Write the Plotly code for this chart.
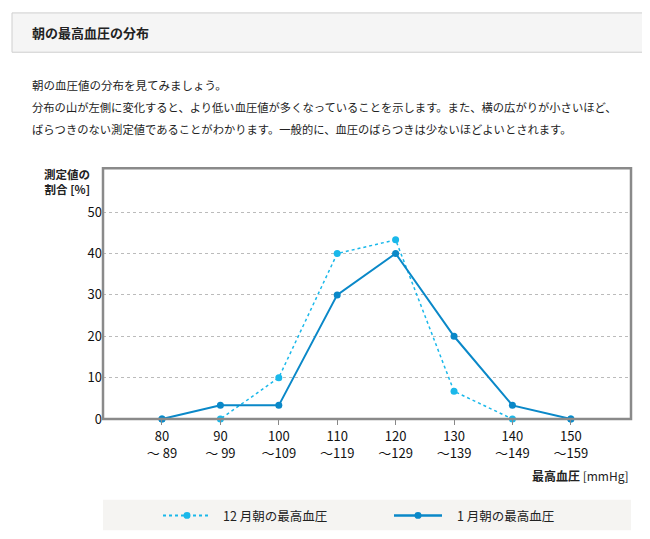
import plotly.graph_objects as go

categories = ["80<br>～ 89", "90<br>～ 99", "100<br>～109", "110<br>～119", "120<br>～129", "130<br>～139", "140<br>～149", "150<br>～159"]
dec_values = [0, 0, 10, 40, 43.3, 6.7, 0, 0]
jan_values = [0, 3.3, 3.3, 30, 40, 20, 3.3, 0]
y_ticks = [0, 10, 20, 30, 40, 50]

W, H = 650, 539
x0, x1, y0, y1 = 95, 623, 163, 418
def px(x): return x / W
def py(y): return 1 - y / H

xs = list(range(len(categories)))
fig = go.Figure()
fig.add_trace(go.Scatter(x=xs, y=dec_values, mode="lines+markers", name="12 月朝の最高血圧",
    line=dict(color="#1ab8ea", width=1.5, dash="dot"), marker=dict(size=7, color="#1ab8ea"), cliponaxis=False))
fig.add_trace(go.Scatter(x=xs, y=jan_values, mode="lines+markers", name="1 月朝の最高血圧",
    line=dict(color="#0a88c8", width=2), marker=dict(size=7, color="#0a88c8"), cliponaxis=False))

fig.update_layout(
    width=W, height=H, margin=dict(l=0, r=0, t=0, b=0), showlegend=False,
    paper_bgcolor="white", plot_bgcolor="white",
    font=dict(family="Noto Sans CJK JP", color="#222", size=12),
    xaxis=dict(domain=[px(x0), px(x1)], range=[-1.01, 8.03], tickvals=xs, ticktext=categories,
               showgrid=False, zeroline=False, ticks="outside", ticklen=5, tickcolor="#888",
               tickfont=dict(size=13, color="#111")),
    yaxis=dict(domain=[py(y1), py(y0)], range=[0, 60.6], tickvals=y_ticks,
               showgrid=True, gridcolor="#bbb", griddash="dot", gridwidth=1, zeroline=False,
               ticks="", tickfont=dict(size=13, color="#111")),
)
shapes = [
    dict(type="rect", xref="paper", yref="paper", x0=px(x0), x1=px(x1), y0=py(y1), y1=py(y0),
         line=dict(color="#8a8a8a", width=2.5)),
    dict(type="rect", xref="paper", yref="paper", x0=px(4), x1=px(649), y0=py(45), y1=py(5),
         line=dict(color="#cfcfcf", width=1), fillcolor="#f5f5f5", layer="below"),
    dict(type="rect", xref="paper", yref="paper", x0=px(95), x1=px(623), y0=py(531), y1=py(500),
         line=dict(width=0), fillcolor="#f5f4f2", layer="below"),
    dict(type="line", xref="paper", yref="paper", x0=px(155), x1=px(203), y0=py(516), y1=py(516),
         line=dict(color="#1ab8ea", width=2, dash="dot")),
    dict(type="line", xref="paper", yref="paper", x0=px(386), x1=px(434), y0=py(516), y1=py(516),
         line=dict(color="#0a88c8", width=2.5)),
    dict(type="circle", xref="paper", yref="paper", x0=px(175.5), x1=px(182.5), y0=py(519.5), y1=py(512.5),
         line=dict(width=0), fillcolor="#1ab8ea"),
    dict(type="circle", xref="paper", yref="paper", x0=px(406.5), x1=px(413.5), y0=py(519.5), y1=py(512.5),
         line=dict(width=0), fillcolor="#0a88c8"),
]
fig.update_layout(shapes=shapes)
def ann(x, y, t, size=12, anchor="left", bold=False):
    fig.add_annotation(xref="paper", yref="paper", x=px(x), y=py(y), text=f"<b>{t}</b>" if bold else t,
        showarrow=False, xanchor=anchor, yanchor="middle", font=dict(size=size, color="#222"), align=anchor)
ann(22, 25, "朝の最高血圧の分布", 13, bold=True)
ann(22, 78, "朝の血圧値の分布を見てみましょう。", 11.5)
ann(22, 101, "分布の山が左側に変化すると、より低い血圧値が多くなっていることを示します。また、横の広がりが小さいほど、", 11.3)
ann(22, 123, "ばらつきのない測定値であることがわかります。一般的に、血圧のばらつきは少ないほどよいとされます。", 11.3)
ann(84, 176, "<b>測定値の<br>割合 [%]</b>", 11.5, anchor="right")
ann(623, 475, "<b>最高血圧</b> [mmHg]", 12, anchor="right")
ann(213, 516, "12 月朝の最高血圧", 12.5)
ann(447, 516, "1 月朝の最高血圧", 12.5)
fig.write_html("out.html")
